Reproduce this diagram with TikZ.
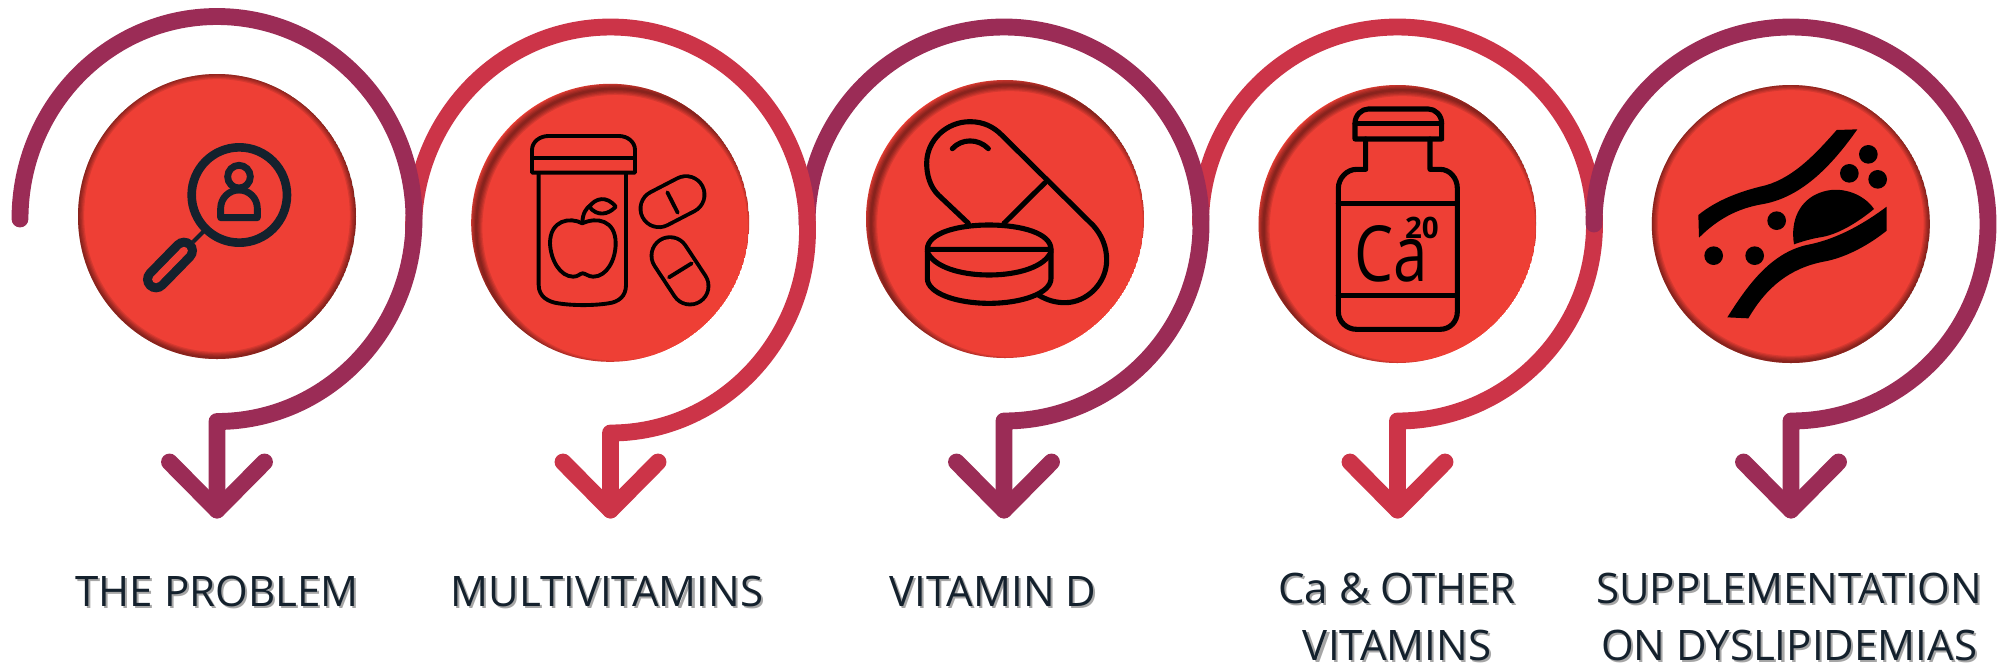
\documentclass[tikz,border=0pt]{standalone}
\usepackage{fontspec}
\setmainfont{Open Sans}
\definecolor{ringplum}{HTML}{9B2C56}
\definecolor{ringred}{HTML}{CC3448}
\definecolor{discred}{HTML}{EE3F35}
\definecolor{inkblue}{HTML}{14212D}
\newcommand{\shadowed}[1]{\leavevmode\rlap{\kern0.6pt\raisebox{-0.6pt}{\textcolor{black!35}{#1}}}#1}
\tikzset{
  ring/.style={line width=4.8pt, line cap=round, line join=round},
  icon/.style={line width=1.1pt, line cap=round, line join=round, black},
  thickicon/.style={line width=1.45pt, line cap=round, line join=round, black},
  pill/.style={line width=1.1pt, line cap=round, black, double=discred, double distance=9.4pt},
  lbl/.style={anchor=base, inner sep=0pt, align=center, text=inkblue,
    font=\fontsize{11.95}{16.07}\selectfont},
}
\begin{document}
\begin{tikzpicture}[x=0.01cm, y=-0.01cm]
\useasboundingbox (0,0) rectangle (1997,669);
% Spiralen mit Pfeil, die linke liegt jeweils oben
\foreach \n/\col/\cx/\cy/\ry in {4/ringred/1397.5/224/197, 5/ringplum/1791/224/197,
    3/ringplum/1004/224/197, 2/ringred/610.5/230/203, 1/ringplum/217/219/202.5} {
    \coordinate (start\n) at (\cx-197, \cy);
    \coordinate (tip\n) at (\cx, 510);
    \draw[ring, \col] (start\n) arc[start angle=180, end angle=450, x radius=197, y radius=\ry] -- (tip\n);
    \draw[ring, \col] (\cx-47.5, 462) -- (tip\n) -- (\cx+47.5, 462);
}
% Scheiben mit innerem Schatten
\foreach \cx/\cy/\ry/\ox/\oy in {217/216.5/142.5/0/-1, 610.2/222.8/139/5/5, 1005/219/139/5/5,
    1397.5/224/139/5/5, 1790.8/224/139/0/-1} {
    \begin{scope}
        \clip (\cx, \cy) ellipse (139 and \ry);
        \fill[discred] (\cx, \cy) ellipse (139 and \ry);
        \foreach \w in {1,2,...,5} {
            \draw[black, opacity=0.1, line width=\w*0.7pt] (\cx+\ox, \cy+\oy) ellipse (139 and \ry);
        }
    \end{scope}
}
% Lupe mit Person
\begin{scope}[shift={(70,60)}, scale=1/3, inkblue]
    \draw[line width=2.45pt] (508,405) circle (143);
    \draw[line width=1.15pt] (405,510) -- (370,545);
    \draw[line width=2.6pt, double=discred, double distance=2.2pt, line cap=round] (342,572) -- (258,658);
    \draw[line width=1.95pt] (507,350) circle (34);
    \draw[line width=1.95pt, line join=round] (452,473) -- (452,445) arc[start angle=180, end angle=360, radius=55] -- (562,473) -- cycle;
\end{scope}
% Dose mit Apfel und Tabletten
\begin{scope}[shift={(460,70)}, scale=1/3]
    \draw[icon] (216,308) -- (216,240) .. controls (216,215) and (240,198) .. (265,198) -- (477,198)
        .. controls (502,198) and (525,215) .. (525,240) -- (525,308) -- cycle;
    \draw[icon] (216,264) -- (525,264);
    \draw[icon] (236,310) -- (236,645) .. controls (236,680) and (265,696) .. (295,700)
        .. controls (340,707) and (400,707) .. (445,700) .. controls (475,696) and (498,680) .. (498,645) -- (498,310);
    \draw[icon] (367,460) .. controls (330,440) and (270,450) .. (270,520) .. controls (272,570) and (300,620) .. (340,620)
        .. controls (355,620) and (360,610) .. (368,610) .. controls (376,610) and (385,620) .. (400,620)
        .. controls (440,620) and (467,570) .. (467,520) .. controls (467,450) and (410,440) .. (367,460) -- cycle;
    \draw[icon] (367,458) .. controls (368,430) and (378,415) .. (392,405);
    \draw[icon] (388,410) .. controls (405,385) and (440,375) .. (467,410) .. controls (445,435) and (410,440) .. (388,410) -- cycle;
    \draw[pill] (597,416) -- (678,374);
    \draw[icon] (622,367) -- (653,428);
    \draw[pill] (630,557) -- (690,648);
    \draw[icon] (627,622) -- (695,580);
\end{scope}
% Kapsel und Tablette
\begin{scope}[shift={(820,60)}, scale=1/3]
    \draw[thickicon] (445,490) -- (355,405) .. controls (330,380) and (320,345) .. (320,310)
        .. controls (320,240) and (380,185) .. (450,185) .. controls (490,185) and (520,200) .. (545,225)
        -- (820,497) .. controls (845,525) and (860,560) .. (860,600) .. controls (860,670) and (800,728) .. (735,728)
        .. controls (705,728) and (680,720) .. (655,705);
    \draw[thickicon] (675,368) -- (552,490);
    \draw[thickicon] (397,266) .. controls (425,235) and (475,235) .. (505,266);
    \draw[thickicon] (322,568) .. controls (322,520) and (410,495) .. (507,495)
        .. controls (605,495) and (693,520) .. (693,568) -- cycle;
    \draw[thickicon] (322,575) .. controls (340,620) and (420,645) .. (507,645)
        .. controls (595,645) and (675,620) .. (693,575);
    \draw[thickicon] (322,568) -- (322,655) .. controls (322,700) and (410,730) .. (507,730)
        .. controls (605,730) and (693,700) .. (693,655) -- (693,568);
\end{scope}
% Flasche mit Ca
\begin{scope}[shift={(1220,60)}, scale=1/3]
    \draw[thickicon] (405,237) -- (405,190) .. controls (405,165) and (425,147) .. (445,147) -- (625,147)
        .. controls (645,147) and (665,165) .. (665,190) -- (665,237) -- cycle;
    \draw[thickicon] (405,190) -- (665,190);
    \draw[thickicon] (437,237) -- (437,328) -- (410,328) .. controls (380,328) and (355,355) .. (355,385)
        -- (355,755) .. controls (355,785) and (380,808) .. (410,808) -- (660,808)
        .. controls (690,808) and (712,785) .. (712,755) -- (712,385)
        .. controls (712,355) and (690,328) .. (660,328) -- (630,328) -- (630,237);
    \draw[thickicon] (355,430) -- (712,430);
    \draw[thickicon] (355,707) -- (712,707);
    \node[anchor=base west, inner sep=0pt, font=\fontsize{22}{22}\selectfont] (caname) at (402,665) {\scalebox{0.8}[1]{Ca}};
    \node[anchor=base west, inner sep=0pt, font=\fontsize{8.4}{8.4}\selectfont\bfseries] (canumber) at (553,535) {20};
\end{scope}
% Gefaess mit Plaque
\begin{scope}[shift={(1620,60)}, scale=1/3]
    \fill[black] (235,465) .. controls (290,420) and (360,395) .. (420,380) .. controls (510,362) and (580,290) .. (650,210)
        -- (712,208) .. controls (640,310) and (550,410) .. (430,432) .. controls (350,445) and (290,480) .. (237,533) -- cycle;
    \fill[black] (322,772) .. controls (380,680) and (450,580) .. (560,555) .. controls (640,540) and (720,500) .. (800,440)
        -- (800,512) .. controls (740,560) and (670,595) .. (610,605) .. controls (510,625) and (440,680) .. (385,775) -- cycle;
    \fill[black] (522,553) .. controls (510,480) and (540,420) .. (600,398) .. controls (660,375) and (730,400) .. (762,447)
        .. controls (710,490) and (650,525) .. (600,532) .. controls (570,537) and (545,545) .. (522,553) -- cycle;
    \foreach \x/\y in {745/283, 688/340, 773/358, 470/482, 281/587, 404/587} {
        \fill[black] (\x,\y) circle (28);
    }
\end{scope}
% Beschriftungen
\node[lbl] (problem) at (217,606) {\shadowed{THE PROBLEM}};
\node[lbl] (multi) at (607,606) {\shadowed{MULTIVITAMINS}};
\node[lbl] (vitd) at (993,606) {\shadowed{VITAMIN D}};
\node[lbl] (calcium) at (1397,660) {\shadowed{Ca \& OTHER}\\\shadowed{VITAMINS}};
\node[lbl] (dyslip) at (1789,660) {\shadowed{SUPPLEMENTATION}\\\shadowed{ON DYSLIPIDEMIAS}};
\end{tikzpicture}
\end{document}
